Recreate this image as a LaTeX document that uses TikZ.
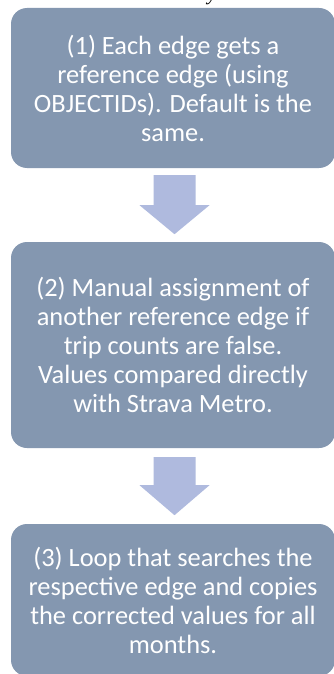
\documentclass[tikz,border=0pt]{standalone}
\usepackage{fontspec}
\setmainfont{Carlito}
\newfontfamily\captionfont{Liberation Serif}
\definecolor{boxfill}{HTML}{8497B0}
\definecolor{arrowfill}{HTML}{AFBADE}
\tikzset{
  stepbox/.style={draw=none, fill=boxfill, rounded corners=16pt,
    minimum width=324pt, text=white, align=center, inner sep=0pt,
    font=\fontsize{26.4pt}{29pt}\selectfont},
  blockarrow/.style={fill=arrowfill, draw=none}
}
\begin{document}
\begin{tikzpicture}[x=1pt, y=-1pt]
  \useasboundingbox (0,0) rectangle (334,674);
  \fill[white] (0,0) rectangle (334,674);
  % tail of the caption line above the chart
  \node[anchor=base, inner sep=0pt, font=\captionfont\itshape\fontsize{20pt}{22pt}\selectfont]
    (cap) at (212,0.3) {y};
  % process boxes
  \node[stepbox, minimum height=160pt] (s1) at (173,88)
    {(1) Each edge gets a\\reference edge (using\\OBJECTIDs). Default is the\\same.};
  \node[stepbox, minimum height=206pt] (s2) at (173,345)
    {(2) Manual assignment of\\another reference edge if\\trip counts are false.\\Values compared directly\\with Strava Metro.};
  \node[stepbox, minimum height=152pt] (s3) at (173,600)
    {(3) Loop that searches the\\respective edge and copies\\the corrected values for all\\months.};
  % block arrows between the boxes
  \fill[blockarrow] ([xshift=-19.5pt,yshift=-7pt]s1.south) -- ++(42,0) -- ++(0,30) -- ++(14,0)
    -- ([xshift=1.5pt,yshift=-66pt]s1.south) -- ++(-35,-29) -- ++(14,0) -- cycle;
  \fill[blockarrow] ([xshift=-19.5pt,yshift=-9pt]s2.south) -- ++(42,0) -- ++(0,28) -- ++(14,0)
    -- ([xshift=1.5pt,yshift=-67pt]s2.south) -- ++(-35,-30) -- ++(14,0) -- cycle;
\end{tikzpicture}
\end{document}
